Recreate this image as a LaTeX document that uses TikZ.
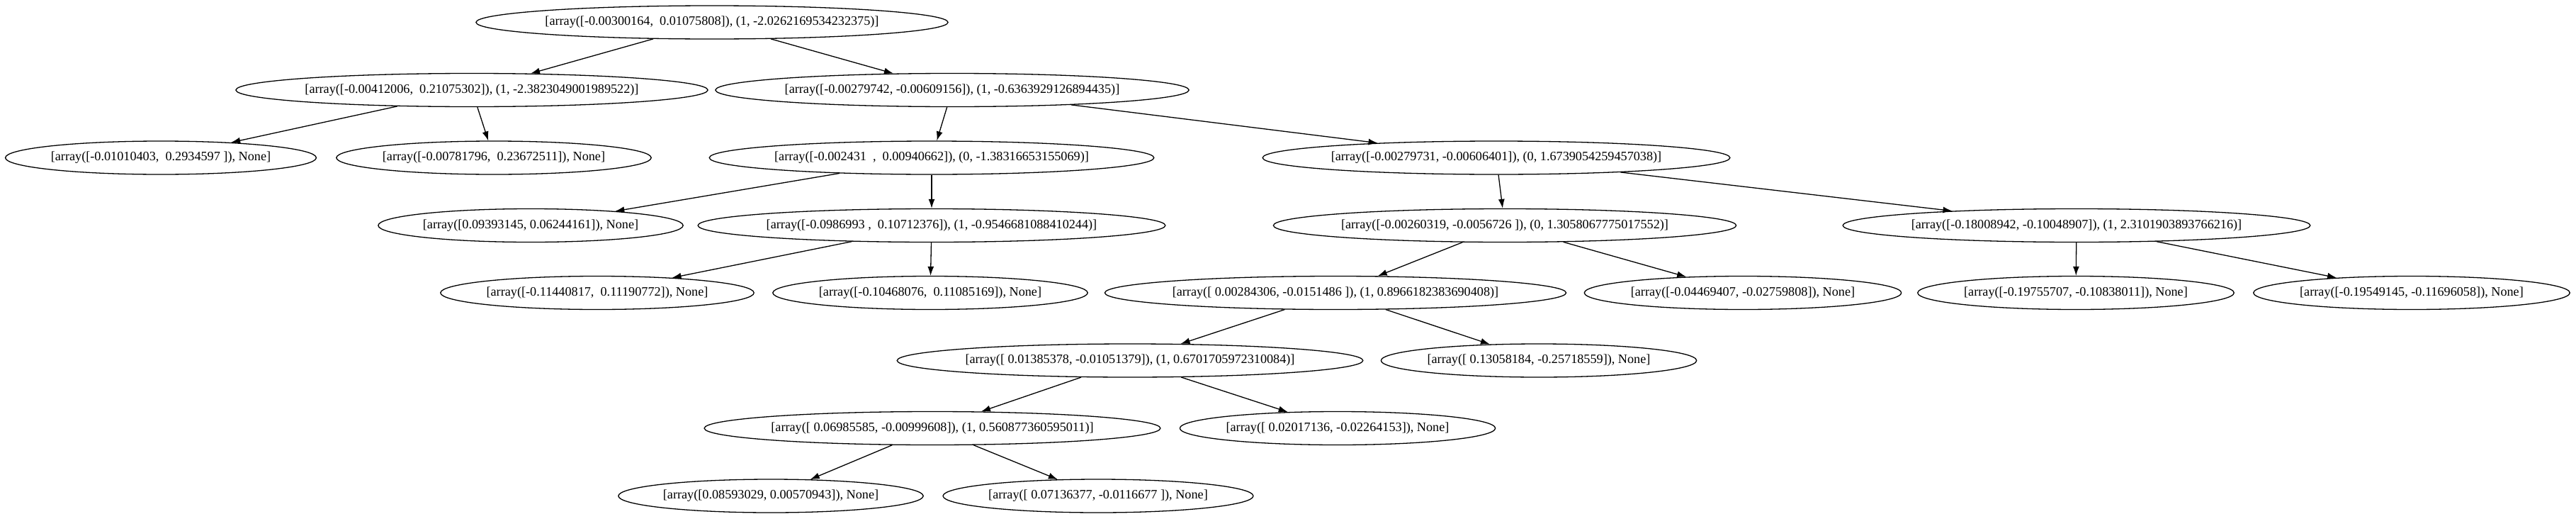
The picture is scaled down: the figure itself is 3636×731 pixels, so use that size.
\documentclass[tikz,border=0pt]{standalone}
\usepackage{fontspec}
\setmainfont{Liberation Serif}
\usetikzlibrary{shapes.geometric,arrows.meta}

\begin{document}
\begin{tikzpicture}[
  x=1pt, y=1pt,
  every node/.style={font=\fontsize{18.2}{22}\selectfont},
  split/.style={ellipse, draw, line width=1.3pt, inner sep=0pt, minimum height=47pt},
  branch/.style={draw, line width=1.3pt, -{Latex[length=13pt, width=9pt]}}
]
\useasboundingbox (0,0) rectangle (3636,-731);

% Knopen per niveau
\node[split] (root) at (1005,-31.5) {[array([-0.00300164,\ \ 0.01075808]), (1, -2.0262169534232375)]};

\node[split] (l) at (666,-127) {[array([-0.00412006,\ \ 0.21075302]), (1, -2.3823049001989522)]};
\node[split] (r) at (1344,-127) {[array([-0.00279742, -0.00609156]), (1, -0.6363929126894435)]};

\node[split] (ll) at (227,-222.5) {[array([-0.01010403,\ \ 0.2934597 ]), None]};
\node[split] (lr) at (697,-222.5) {[array([-0.00781796,\ \ 0.23672511]), None]};
\node[split] (rl) at (1315,-222.5) {[array([-0.002431\ \ ,\ \ 0.00940662]), (0, -1.38316653155069)]};
\node[split] (rr) at (2112,-222.5) {[array([-0.00279731, -0.00606401]), (0, 1.6739054259457038)]};

\node[split] (rll) at (749,-318) {[array([0.09393145, 0.06244161]), None]};
\node[split] (rlr) at (1315,-318) {[array([-0.0986993 ,\ \ 0.10712376]), (1, -0.9546681088410244)]};
\node[split] (rrl) at (2124,-318) {[array([-0.00260319, -0.0056726 ]), (0, 1.3058067775017552)]};
\node[split] (rrr) at (2931,-318) {[array([-0.18008942, -0.10048907]), (1, 2.3101903893766216)]};

\node[split] (rlrl) at (843,-413) {[array([-0.11440817,\ \ 0.11190772]), None]};
\node[split] (rlrr) at (1313,-413) {[array([-0.10468076,\ \ 0.11085169]), None]};
\node[split] (rrll) at (1885,-413) {[array([ 0.00284306, -0.0151486 ]), (1, 0.8966182383690408)]};
\node[split] (rrlr) at (2460,-413) {[array([-0.04469407, -0.02759808]), None]};
\node[split] (rrrl) at (2930,-413) {[array([-0.19755707, -0.10838011]), None]};
\node[split] (rrrr) at (3404,-413) {[array([-0.19549145, -0.11696058]), None]};

\node[split] (rrlll) at (1595,-508.5) {[array([ 0.01385378, -0.01051379]), (1, 0.6701705972310084)]};
\node[split] (rrllr) at (2172,-508.5) {[array([ 0.13058184, -0.25718559]), None]};

\node[split] (rrllll) at (1316,-604) {[array([ 0.06985585, -0.00999608]), (1, 0.560877360595011)]};
\node[split] (rrlllr) at (1888,-604) {[array([ 0.02017136, -0.02264153]), None]};

\node[split] (rrlllll) at (1088,-699.5) {[array([0.08593029, 0.00570943]), None]};
\node[split] (rrllllr) at (1550,-699.5) {[array([ 0.07136377, -0.0116677 ]), None]};

% Takken
\foreach \a/\b in {root/l, root/r, l/ll, l/lr, r/rl, r/rr, rl/rll, rl/rlr,
                   rr/rrl, rr/rrr, rlr/rlrl, rlr/rlrr, rrl/rrll, rrl/rrlr,
                   rrr/rrrl, rrr/rrrr, rrll/rrlll, rrll/rrllr,
                   rrlll/rrllll, rrlll/rrlllr, rrllll/rrlllll, rrllll/rrllllr}
  \draw[branch] (\a) -- (\b);

\end{tikzpicture}
\end{document}
